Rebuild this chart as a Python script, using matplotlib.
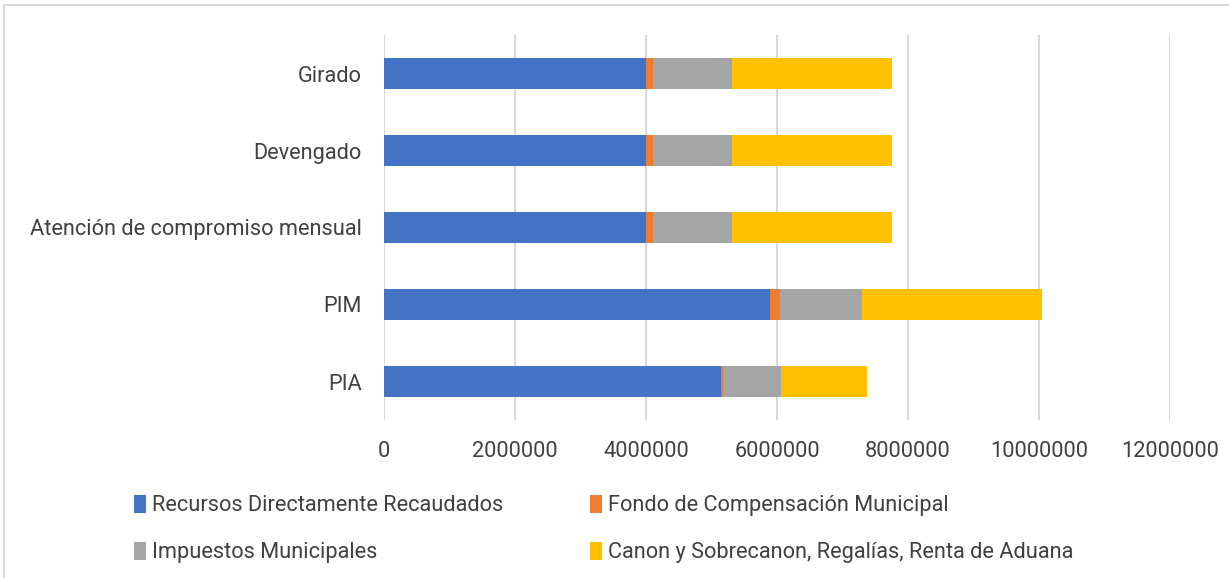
import matplotlib.pyplot as plt
import numpy as np
from matplotlib.patches import Rectangle

plt.rcParams['font.family'] = ['Roboto', 'DejaVu Sans']

# datos de las barras (de abajo hacia arriba)
categorias = ['PIA', 'PIM', 'Atención de compromiso mensual', 'Devengado', 'Girado']
recursos_dir = [5140000, 5900000, 4000000, 4000000, 4000000]
fondo_comp = [40000, 140000, 100000, 100000, 100000]
impuestos = [880000, 1260000, 1220000, 1220000, 1220000]
canon = [1310000, 2740000, 2430000, 2430000, 2430000]

series = ['Recursos Directamente Recaudados', 'Fondo de Compensación Municipal',
          'Impuestos Municipales', 'Canon y Sobrecanon, Regalías, Renta de Aduana']
colores = ['#4472C4', '#ED7D31', '#A5A5A5', '#FFC000']
valores = [recursos_dir, fondo_comp, impuestos, canon]

fig = plt.figure(figsize=(12.29, 5.78), dpi=100)
ax = fig.add_axes([384/1229, 1-420/578, (1170-384)/1229, 385/578])

y = np.arange(len(categorias))
izq = np.zeros(len(categorias))
barras = []
for nombre, col, val in zip(series, colores, valores):
    b = ax.barh(y, val, left=izq, height=0.4, color=col, label=nombre, zorder=3)
    barras.append(b)
    izq = izq + np.array(val)

ax.set_xlim(0, 12000000)
ax.set_ylim(-0.5, 4.5)
ax.set_xticks(np.arange(0, 12000001, 2000000))
ax.set_xticklabels([str(v) for v in range(0, 12000001, 2000000)])
ax.set_yticks(y)
ax.set_yticklabels(categorias)
ax.xaxis.grid(True, color='#D9D9D9', linewidth=1.5, zorder=0)
for s in ax.spines.values():
    s.set_visible(False)
ax.tick_params(axis='both', length=0, labelsize=15.7, colors='#404040')
ax.tick_params(axis='x', pad=15)
ax.tick_params(axis='y', pad=16)

# leyenda en dos columnas, orden por filas
orden = [0, 2, 1, 3]
leg = fig.legend([barras[i] for i in orden], [series[i] for i in orden],
                 ncol=2, loc='center left', bbox_to_anchor=(114/1229, 1-529/578),
                 frameon=False, fontsize=15.7, handlelength=0.55, handleheight=0.9,
                 handletextpad=0.3, columnspacing=3.95, labelspacing=1.15,
                 labelcolor='#404040')

# borde del grafico
fig.patches.append(Rectangle((4/1229, -0.1), 1.2, 1-5/578+0.1, transform=fig.transFigure,
                             fill=False, edgecolor='#D9D9D9', linewidth=1.5))

fig.savefig('out.png', dpi=100)
